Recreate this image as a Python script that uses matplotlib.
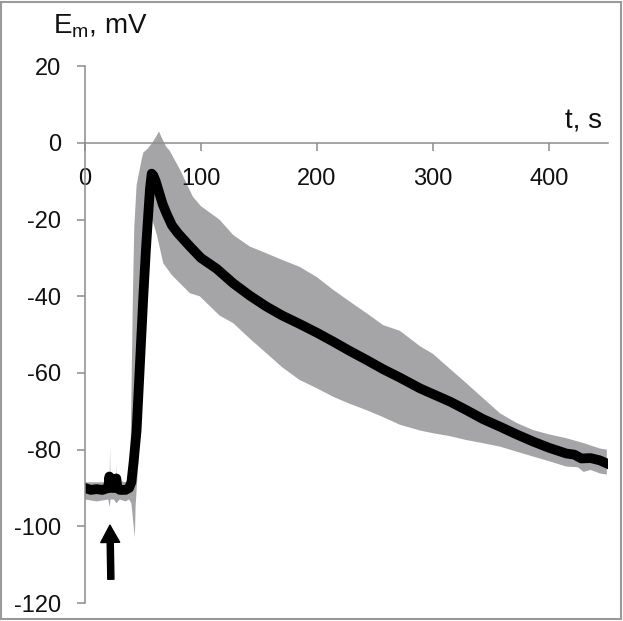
import matplotlib
matplotlib.use('Agg')
import matplotlib.pyplot as plt
from matplotlib.patches import Rectangle

plt.rcParams['font.family'] = ['Liberation Sans', 'DejaVu Sans']
plt.rcParams['mathtext.fontset'] = 'custom'
plt.rcParams['mathtext.rm'] = 'Liberation Sans'
plt.rcParams['axes.unicode_minus'] = False

# mean trace
t_mean = [0, 5, 10, 15, 20, 21, 22, 23, 25, 27, 28, 30, 35, 38, 40, 42, 44.5, 47, 50.3,
          52.5, 54.6, 56, 57.5, 59, 61, 64, 67, 70.4, 75, 80, 90.5, 100, 113.5, 127.8,
          142, 156.6, 170, 185, 200, 214, 228, 242.8, 257, 271.5, 288.8, 300, 315, 329,
          343, 357.8, 372, 386.5, 400, 415, 422, 428, 436, 444, 450]
v_mean = [-90, -90.5, -90.3, -90.5, -90, -87, -89, -90, -90, -87.5, -90, -90.5, -90.5, -90,
          -88.5, -83, -75, -60, -40, -28, -18.3, -12, -8, -8.5, -10, -13, -16, -18.5,
          -21.5, -23.5, -27, -30, -32.8, -36.6, -39.8, -42.7, -45, -47.2, -49.5, -51.8,
          -54.2, -56.6, -59, -61.2, -64, -65.5, -67.5, -69.7, -72, -74, -76, -77.9,
          -79.5, -81, -81.3, -82.3, -82.2, -82.8, -83.6]

# upper edge of the spread
t_up = [0, 10, 20, 21.3, 21.6, 22, 27, 27.3, 27.6, 35, 38, 39.3, 40.3, 41.3, 42.5, 44.5,
        48.8, 50.3, 54, 58, 61, 63.8, 66, 70, 73, 82, 93, 100, 116, 127.8, 142, 156.6,
        170, 185, 200, 214, 228, 242.8, 257, 271.5, 288.8, 300, 315, 329, 343, 357.8,
        372, 386.5, 400, 415, 430, 444, 450]
v_up = [-88.5, -88.5, -88.5, -88.5, -79, -88, -88, -83.5, -88, -88.5, -88, -80, -60, -40,
        -22, -11, -4.4, -2.5, -1.5, 0, 1.5, 3, 1.5, -1, -2, -7, -14, -16.5, -20, -24, -27,
        -28.8, -30.5, -32.3, -35, -38.3, -41.3, -44.4, -47.5, -49, -53, -55, -59, -62.7,
        -66.5, -70.5, -73, -74.9, -76, -77, -78.3, -79.7, -80]

# lower edge of the spread
t_lo = [0, 10, 20, 21.4, 22, 25, 27, 30, 35, 38, 40, 42, 43, 43.6, 46, 48, 51.7, 55, 57.5,
        62, 67.5, 75, 90.5, 99, 116, 127.8, 142, 156.6, 170, 185, 200, 214, 228, 242.8,
        257, 271.5, 288.8, 300, 315, 329, 343, 357.8, 372, 386.5, 400, 415, 425, 430,
        436, 444, 450]
v_lo = [-93, -93.5, -93, -95, -93, -93, -94, -93, -93.5, -93, -94, -100, -103, -95, -83.5,
        -70, -48.8, -30, -19.5, -24, -31.4, -34.5, -39.2, -40, -45, -47, -51, -54.9,
        -58.5, -61.8, -64, -66.2, -68, -69.7, -71.5, -73.5, -75, -75.7, -76.5, -77.5,
        -78.3, -79.2, -80.5, -81.8, -83, -84.4, -84.6, -85.8, -85.3, -86.2, -86.5]

y_ticks = [-120, -100, -80, -60, -40, -20, 0, 20]
x_ticks = [0, 100, 200, 300, 400]

fig = plt.figure(figsize=(6.23, 6.21), dpi=100)
ax = fig.add_axes([85 / 623, (621 - 603) / 621, 523 / 623, (603 - 66.3) / 621])

# grey band and mean trace
ax.fill(t_up + t_lo[::-1], v_up + v_lo[::-1], color='#a5a5a8', lw=0, zorder=1)
ax.plot(t_mean, v_mean, color='black', lw=7, solid_joinstyle='round', zorder=2)

# arrow marking the stimulus
ax.annotate('', xy=(21.5, -99.7), xytext=(22.3, -113.8),
            arrowprops=dict(arrowstyle='simple,head_width=0.68,head_length=0.62,tail_width=0.22',
                            mutation_scale=20, color='black', shrinkA=0, shrinkB=0))

ax.set_xlim(0, 451)
ax.set_ylim(-120, 20)
ax.spines['top'].set_visible(False)
ax.spines['right'].set_visible(False)
ax.spines['bottom'].set_position(('data', 0))
for s in ['left', 'bottom']:
    ax.spines[s].set_color('#8c8c8c')
    ax.spines[s].set_linewidth(1.1)

ax.set_yticks(y_ticks)
ax.set_xticks(x_ticks)
ax.tick_params(axis='y', direction='out', length=6, width=1.1, color='#8c8c8c',
               labelsize=17, pad=11, labelcolor='#111111')
ax.tick_params(axis='x', direction='out', length=6, width=1.1, color='#8c8c8c',
               labelsize=17, pad=12, labelcolor='#111111')

ax.text(446, 3.9, 't, s', fontsize=20, ha='right', va='baseline', color='#111111')
fig.text(53 / 623, 1 - 33 / 621, r'E$_{\mathrm{m}}$, mV', fontsize=20, ha='left',
         va='baseline', color='#111111')

# grey frame round the picture
fig.patches.append(Rectangle((0.002, 0.003), 0.994, 0.994, transform=fig.transFigure,
                             fill=False, edgecolor='#9a9a9a', lw=1.5))

fig.savefig('out.png', dpi=100)
